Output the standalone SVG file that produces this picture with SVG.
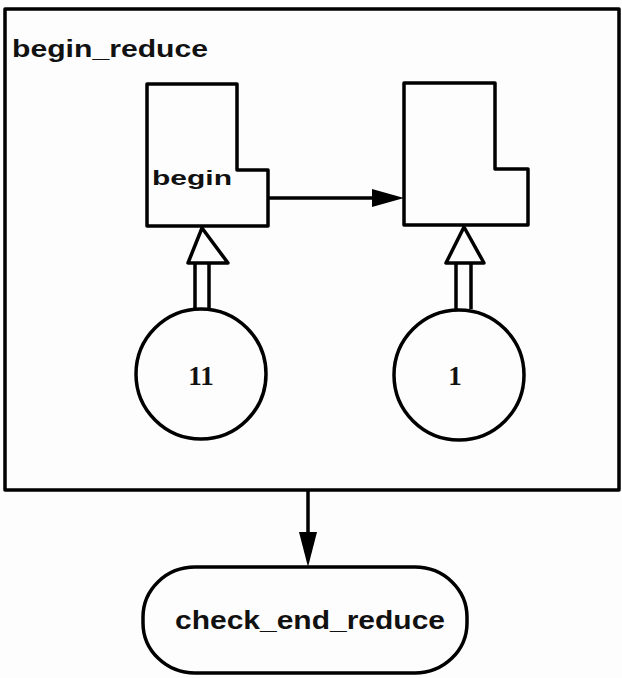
<svg xmlns="http://www.w3.org/2000/svg" width="622" height="678" viewBox="0 0 622 678">
<style>
.s{fill:none;stroke:#000;stroke-width:3.5;stroke-linejoin:round}
.t{font-family:"Liberation Sans",Arial,sans-serif;font-weight:bold;fill:#111}
.n{font-family:"Liberation Serif","Times New Roman",serif;font-weight:bold;fill:#111}
</style>
<rect width="622" height="678" fill="#fdfdfd"/>
<g id="begin_reduce">
<rect class="s" x="5" y="9" width="614" height="481"/>
<text class="t" x="12" y="57" font-size="23" textLength="196" lengthAdjust="spacingAndGlyphs">begin_reduce</text>
</g>
<g id="begin">
<path class="s" d="M147,84 H237 V170 H268 V226 H147 Z"/>
<text class="t" x="152" y="185" font-size="21" textLength="80" lengthAdjust="spacingAndGlyphs">begin</text>
</g>
<g id="step2">
<path class="s" d="M404,83 H495 V169 H528 V225 H404 Z"/>
</g>
<g id="c11">
<circle class="s" cx="201" cy="374" r="65"/>
<text class="n" x="201" y="385" font-size="27" text-anchor="middle">11</text>
</g>
<g id="c1">
<circle class="s" cx="459" cy="375" r="65"/>
<text class="n" x="455" y="385" font-size="27" text-anchor="middle">1</text>
</g>
<g id="check_end_reduce">
<rect class="s" x="143" y="567" width="324" height="106" rx="52" ry="50"/>
<text class="t" x="310" y="629" font-size="25" text-anchor="middle" textLength="270" lengthAdjust="spacingAndGlyphs">check_end_reduce</text>
</g>
<g id="connectors">
<path d="M268,198 H372" stroke="#000" stroke-width="3.5"/>
<path d="M372,189 L404,198 L372,207 Z" fill="#000"/>
<path d="M308,490 V532" stroke="#000" stroke-width="3.5"/>
<path d="M299,532 L308,567 L317,532 Z" fill="#000"/>
<path class="s" d="M195,309 V263 M209,309 V263 M188,263 H228 L202,228 Z"/>
<path class="s" d="M456,309 V263 M471,309 V263 M446,263 H484 L464,227 Z"/>
</g>
</svg>
